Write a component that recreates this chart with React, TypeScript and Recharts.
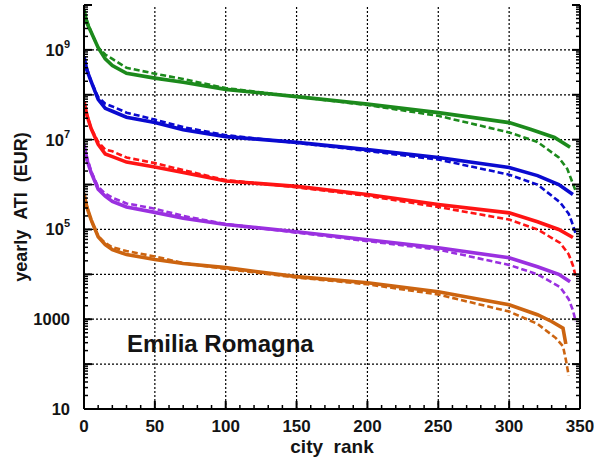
import React from 'react';
import { LineChart, Line, XAxis, YAxis, ReferenceLine } from 'recharts';

const FONT = '"Liberation Sans", Arial, Helvetica, sans-serif';
const INK = '#141414';

// ---- axis ticks ----
const rankTicks = [0, 10, 20, 30, 40, 50, 60, 70, 80, 90, 100, 110, 120, 130, 140, 150, 160, 170, 180, 190, 200, 210, 220, 230, 240, 250, 260, 270, 280, 290, 300, 310, 320, 330, 340, 350];
const rankLabels = [0, 50, 100, 150, 200, 250, 300, 350];
const rankGrid = [50, 100, 150, 200, 250, 300];
const decades = [10, 100, 1e3, 1e4, 1e5, 1e6, 1e7, 1e8, 1e9, 1e10];
const decadeGrid = [100, 1e3, 1e4, 1e5, 1e6, 1e7, 1e8, 1e9];
const labeledDecades: { v: number; base: string; sup?: string }[] = [
  { v: 10, base: '10' },
  { v: 1000, base: '1000' },
  { v: 1e5, base: '10', sup: '5' },
  { v: 1e7, base: '10', sup: '7' },
  { v: 1e9, base: '10', sup: '9' },
];
const minorMultipliers = [2, 3, 4, 5, 6, 7, 8, 9];
const atiTicks: number[] = [];
decades.forEach((d) => {
  atiTicks.push(d);
  if (d < 1e10) minorMultipliers.forEach((m) => atiTicks.push(m * d));
});
const decadeSet = new Set(decades);

// ---- data (rank, yearly ATI in EUR) ----
type P = { rank: number; ati: number };
const greenSolid: P[] = [
  { rank: 0, ati: 7.9e9 }, { rank: 2, ati: 4.0e9 }, { rank: 5, ati: 2.5e9 }, { rank: 10, ati: 1.12e9 },
  { rank: 15, ati: 6.3e8 }, { rank: 20, ati: 4.5e8 }, { rank: 30, ati: 3.0e8 }, { rank: 50, ati: 2.35e8 },
  { rank: 70, ati: 1.9e8 }, { rank: 100, ati: 1.32e8 }, { rank: 150, ati: 9.1e7 }, { rank: 200, ati: 6.2e7 },
  { rank: 250, ati: 4.0e7 }, { rank: 300, ati: 2.4e7 }, { rank: 315, ati: 1.7e7 }, { rank: 332, ati: 1.12e7 },
  { rank: 343, ati: 6.8e6 },
];
const greenDashed: P[] = [
  { rank: 0, ati: 7.1e9 }, { rank: 5, ati: 2.5e9 }, { rank: 10, ati: 1.12e9 }, { rank: 15, ati: 7.9e8 },
  { rank: 20, ati: 6.3e8 }, { rank: 30, ati: 4.0e8 }, { rank: 50, ati: 2.95e8 }, { rank: 70, ati: 2.24e8 },
  { rank: 100, ati: 1.41e8 }, { rank: 150, ati: 9.1e7 }, { rank: 200, ati: 5.9e7 }, { rank: 250, ati: 3.4e7 },
  { rank: 300, ati: 1.45e7 }, { rank: 320, ati: 8.9e6 }, { rank: 335, ati: 4.0e6 }, { rank: 341, ati: 2.24e6 },
  { rank: 344, ati: 1.26e6 }, { rank: 347, ati: 7.1e5 },
];
const blueSolid: P[] = [
  { rank: 0, ati: 7.1e8 }, { rank: 2, ati: 3.55e8 }, { rank: 5, ati: 2.0e8 }, { rank: 10, ati: 7.9e7 },
  { rank: 15, ati: 5.0e7 }, { rank: 20, ati: 4.3e7 }, { rank: 30, ati: 3.16e7 }, { rank: 50, ati: 2.4e7 },
  { rank: 70, ati: 1.66e7 }, { rank: 100, ati: 1.17e7 }, { rank: 150, ati: 8.7e6 }, { rank: 200, ati: 6.0e6 },
  { rank: 250, ati: 4.0e6 }, { rank: 300, ati: 2.4e6 }, { rank: 320, ati: 1.58e6 }, { rank: 335, ati: 1.0e6 },
  { rank: 345, ati: 6.0e5 },
];
const blueDashed: P[] = [
  { rank: 0, ati: 6.3e8 }, { rank: 5, ati: 2.0e8 }, { rank: 10, ati: 8.9e7 }, { rank: 15, ati: 6.3e7 },
  { rank: 20, ati: 5.5e7 }, { rank: 30, ati: 4.0e7 }, { rank: 50, ati: 2.8e7 }, { rank: 70, ati: 1.9e7 },
  { rank: 100, ati: 1.26e7 }, { rank: 150, ati: 8.5e6 }, { rank: 200, ati: 5.6e6 }, { rank: 250, ati: 3.6e6 },
  { rank: 300, ati: 1.66e6 }, { rank: 320, ati: 1.0e6 }, { rank: 336, ati: 4.0e5 }, { rank: 342, ati: 2.24e5 },
  { rank: 345, ati: 1.26e5 }, { rank: 347, ati: 7.9e4 },
];
const redSolid: P[] = [
  { rank: 0, ati: 7.1e7 }, { rank: 2, ati: 3.55e7 }, { rank: 5, ati: 1.78e7 }, { rank: 10, ati: 7.9e6 },
  { rank: 15, ati: 4.8e6 }, { rank: 20, ati: 4.2e6 }, { rank: 30, ati: 3.16e6 }, { rank: 50, ati: 2.45e6 },
  { rank: 70, ati: 1.86e6 }, { rank: 100, ati: 1.2e6 }, { rank: 150, ati: 9.1e5 }, { rank: 200, ati: 6.0e5 },
  { rank: 250, ati: 3.6e5 }, { rank: 300, ati: 2.34e5 }, { rank: 320, ati: 1.48e5 }, { rank: 335, ati: 1.0e5 },
  { rank: 345, ati: 6.6e4 },
];
const redDashed: P[] = [
  { rank: 0, ati: 6.3e7 }, { rank: 5, ati: 1.78e7 }, { rank: 10, ati: 8.9e6 }, { rank: 15, ati: 6.0e6 },
  { rank: 20, ati: 5.5e6 }, { rank: 30, ati: 4.0e6 }, { rank: 50, ati: 3.0e6 }, { rank: 70, ati: 2.1e6 },
  { rank: 100, ati: 1.26e6 }, { rank: 150, ati: 8.7e5 }, { rank: 200, ati: 5.6e5 }, { rank: 250, ati: 3.16e5 },
  { rank: 300, ati: 1.66e5 }, { rank: 320, ati: 1.0e5 }, { rank: 336, ati: 5.0e4 }, { rank: 342, ati: 2.8e4 },
  { rank: 345, ati: 1.58e4 }, { rank: 347, ati: 8.9e3 },
];
const purpleSolid: P[] = [
  { rank: 0, ati: 7.9e6 }, { rank: 2, ati: 3.55e6 }, { rank: 5, ati: 1.86e6 }, { rank: 10, ati: 7.9e5 },
  { rank: 15, ati: 5.5e5 }, { rank: 20, ati: 4.2e5 }, { rank: 30, ati: 3.16e5 }, { rank: 50, ati: 2.4e5 },
  { rank: 70, ati: 1.78e5 }, { rank: 100, ati: 1.29e5 }, { rank: 150, ati: 8.9e4 }, { rank: 200, ati: 5.9e4 },
  { rank: 250, ati: 3.9e4 }, { rank: 300, ati: 2.34e4 }, { rank: 320, ati: 1.48e4 }, { rank: 335, ati: 1.0e4 },
  { rank: 343, ati: 6.8e3 },
];
const purpleDashed: P[] = [
  { rank: 0, ati: 7.1e6 }, { rank: 5, ati: 2.0e6 }, { rank: 10, ati: 8.9e5 }, { rank: 15, ati: 6.3e5 },
  { rank: 20, ati: 5.1e5 }, { rank: 30, ati: 3.8e5 }, { rank: 50, ati: 2.9e5 }, { rank: 70, ati: 2.0e5 },
  { rank: 100, ati: 1.32e5 }, { rank: 150, ati: 8.5e4 }, { rank: 200, ati: 5.5e4 }, { rank: 250, ati: 3.55e4 },
  { rank: 300, ati: 1.62e4 }, { rank: 320, ati: 1.0e4 }, { rank: 336, ati: 5.2e3 }, { rank: 342, ati: 2.8e3 },
  { rank: 345, ati: 1.58e3 }, { rank: 347, ati: 890 },
];
const orangeSolid: P[] = [
  { rank: 0, ati: 6.3e5 }, { rank: 2, ati: 3.16e5 }, { rank: 5, ati: 1.66e5 }, { rank: 10, ati: 6.9e4 },
  { rank: 15, ati: 4.6e4 }, { rank: 20, ati: 3.55e4 }, { rank: 30, ati: 2.75e4 }, { rank: 50, ati: 2.14e4 },
  { rank: 70, ati: 1.74e4 }, { rank: 100, ati: 1.41e4 }, { rank: 150, ati: 8.9e3 }, { rank: 200, ati: 6.5e3 },
  { rank: 250, ati: 4.1e3 }, { rank: 300, ati: 2.1e3 }, { rank: 320, ati: 1.26e3 }, { rank: 330, ati: 890 },
  { rank: 338, ati: 630 }, { rank: 340, ati: 280 },
];
const orangeDashed: P[] = [
  { rank: 0, ati: 5.6e5 }, { rank: 5, ati: 1.58e5 }, { rank: 10, ati: 7.1e4 }, { rank: 15, ati: 5.0e4 },
  { rank: 20, ati: 4.0e4 }, { rank: 30, ati: 3.3e4 }, { rank: 50, ati: 2.5e4 }, { rank: 70, ati: 1.78e4 },
  { rank: 100, ati: 1.32e4 }, { rank: 150, ati: 8.5e3 }, { rank: 200, ati: 6.0e3 }, { rank: 250, ati: 3.55e3 },
  { rank: 300, ati: 1.48e3 }, { rank: 320, ati: 790 }, { rank: 333, ati: 380 }, { rank: 338, ati: 250 },
  { rank: 340, ati: 126 }, { rank: 342, ati: 56 },
];

const GREEN = '#1c8a1c';
const BLUE = '#0a0ad0';
const RED = '#ff1414';
const PURPLE = '#9a30e0';
const ORANGE = '#cc6410';

const series = [
  { name: 'green solid', data: greenSolid, color: GREEN, dashed: false },
  { name: 'green dashed', data: greenDashed, color: GREEN, dashed: true },
  { name: 'blue solid', data: blueSolid, color: BLUE, dashed: false },
  { name: 'blue dashed', data: blueDashed, color: BLUE, dashed: true },
  { name: 'red solid', data: redSolid, color: RED, dashed: false },
  { name: 'red dashed', data: redDashed, color: RED, dashed: true },
  { name: 'purple solid', data: purpleSolid, color: PURPLE, dashed: false },
  { name: 'purple dashed', data: purpleDashed, color: PURPLE, dashed: true },
  { name: 'orange solid', data: orangeSolid, color: ORANGE, dashed: false },
  { name: 'orange dashed', data: orangeDashed, color: ORANGE, dashed: true },
];

// ---- tick renderers ----
const BottomTick = (props: any) => {
  const { x, y, payload } = props;
  const v = payload.value;
  const major = v % 50 === 0;
  return (
    <g>
      <line x1={x} x2={x} y1={y} y2={y - (major ? 8 : 4)} stroke="#000" strokeWidth={major ? 2 : 1.5} />
      {rankLabels.includes(v) && (
        <text x={x} y={y + 23} textAnchor="middle" fontFamily={FONT} fontWeight="bold" fontSize={17} fill={INK}>
          {v}
        </text>
      )}
    </g>
  );
};
const TopTick = (props: any) => {
  const { x, y, payload } = props;
  const major = payload.value % 50 === 0;
  return <line x1={x} x2={x} y1={y} y2={y + (major ? 8 : 4)} stroke="#000" strokeWidth={major ? 2 : 1.5} />;
};
const LeftTick = (props: any) => {
  const { x, y, payload } = props;
  const v = payload.value;
  const major = decadeSet.has(v);
  const lab = labeledDecades.find((l) => l.v === v);
  return (
    <g>
      <line x1={x} x2={x + (major ? 8 : 4)} y1={y} y2={y} stroke="#000" strokeWidth={major ? 2 : 1.5} />
      {lab && (
        <text x={x - 14} y={y + 6} textAnchor="end" fontFamily={FONT} fontWeight="bold" fontSize={16.5} fill={INK}>
          {lab.base}
          {lab.sup && (
            <tspan dy={-8} fontSize={11}>
              {lab.sup}
            </tspan>
          )}
        </text>
      )}
    </g>
  );
};
const RightTick = (props: any) => {
  const { x, y, payload } = props;
  const major = decadeSet.has(payload.value);
  return <line x1={x} x2={x - (major ? 8 : 4)} y1={y} y2={y} stroke="#000" strokeWidth={major ? 2 : 1.5} />;
};

const axisLine = { stroke: '#000', strokeWidth: 2 };

export default function App() {
  return (
    <div style={{ position: 'absolute', left: 0, top: 0, width: 594, height: 463, background: '#fff' }}>
      <LineChart width={594} height={463} margin={{ top: 5, right: 0, bottom: 24, left: 0 }}>
        <XAxis
          xAxisId="b"
          type="number"
          dataKey="rank"
          domain={[0, 350]}
          ticks={rankTicks}
          interval={0}
          height={30}
          tickSize={0}
          tickMargin={0}
          tickLine={false}
          axisLine={axisLine}
          tick={<BottomTick />}
          allowDataOverflow
          label={{
            content: (p: any) => {
              const vb = p.viewBox;
              return (
                <text
                  x={vb.x + vb.width / 2}
                  y={453}
                  textAnchor="middle"
                  fontFamily={FONT}
                  fontWeight="bold"
                  fontSize={19}
                  fill={INK}
                >
                  {'city\u00a0\u00a0rank'}
                </text>
              );
            },
          }}
        />
        <XAxis
          xAxisId="t"
          orientation="top"
          type="number"
          dataKey="rank"
          domain={[0, 350]}
          ticks={rankTicks}
          interval={0}
          height={0}
          tickSize={0}
          tickMargin={0}
          tickLine={false}
          axisLine={axisLine}
          tick={<TopTick />}
          allowDataOverflow
        />
        <YAxis
          yAxisId="l"
          type="number"
          scale="log"
          dataKey="ati"
          domain={[10, 1e10]}
          ticks={atiTicks}
          interval={0}
          width={84}
          tickSize={0}
          tickMargin={0}
          tickLine={false}
          axisLine={axisLine}
          tick={<LeftTick />}
          allowDataOverflow
          label={{
            content: (p: any) => {
              const vb = p.viewBox;
              const cx = 21;
              const cy = vb.y + vb.height / 2;
              return (
                <text
                  x={cx}
                  y={cy}
                  transform={`rotate(-90 ${cx} ${cy})`}
                  textAnchor="middle"
                  dominantBaseline="central"
                  fontFamily={FONT}
                  fontWeight="bold"
                  fontSize={18}
                  fill={INK}
                >
                  {'yearly\u00a0\u00a0ATI\u00a0\u00a0(EUR)'}
                </text>
              );
            },
          }}
        />
        <YAxis
          yAxisId="r"
          orientation="right"
          type="number"
          scale="log"
          dataKey="ati"
          domain={[10, 1e10]}
          ticks={atiTicks}
          interval={0}
          width={14}
          tickSize={0}
          tickMargin={0}
          tickLine={false}
          axisLine={axisLine}
          tick={<RightTick />}
          allowDataOverflow
        />
        {decadeGrid.map((v) => (
          <ReferenceLine key={`h${v}`} xAxisId="b" yAxisId="l" y={v} stroke="#000" strokeWidth={1.2} strokeDasharray="2 2" />
        ))}
        {rankGrid.map((v) => (
          <ReferenceLine key={`v${v}`} xAxisId="b" yAxisId="l" x={v} stroke="#000" strokeWidth={1.2} strokeDasharray="2 2" />
        ))}
        {series.map((s) => (
          <Line
            key={s.name}
            name={s.name}
            xAxisId="b"
            yAxisId="l"
            data={s.data}
            dataKey="ati"
            type="linear"
            stroke={s.color}
            strokeWidth={s.dashed ? 2.6 : 3.6}
            strokeDasharray={s.dashed ? '6 3' : undefined}
            dot={false}
            activeDot={false}
            isAnimationActive={false}
          />
        ))}
      </LineChart>
      <div
        style={{
          position: 'absolute',
          left: 127,
          top: 332,
          fontFamily: FONT,
          fontWeight: 'bold',
          fontSize: 24,
          lineHeight: '24px',
          color: INK,
          whiteSpace: 'nowrap',
        }}
      >
        Emilia Romagna
      </div>
    </div>
  );
}
